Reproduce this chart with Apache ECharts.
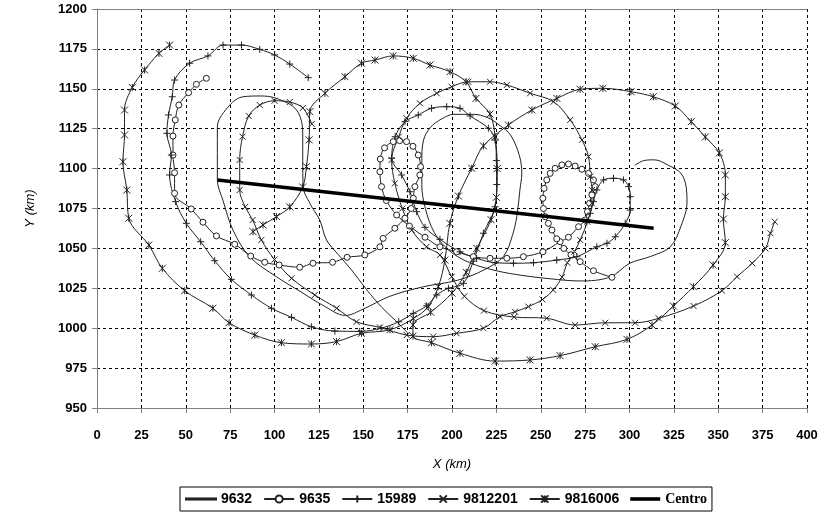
<!DOCTYPE html>
<html>
<head>
<meta charset="utf-8">
<script src="https://cdn.jsdelivr.net/npm/echarts/dist/echarts.min.js"></script>
<style>
  html, body { margin: 0; padding: 0; background: #fff; }
  #chart { width: 821px; height: 515px; }
</style>
</head>
<body>
<div id="chart"></div>
<script>
// Axis ranges and tick spacing (km)
const xRange = [0, 400];
const yRange = [950, 1200];
const tickStep = 25;

// Trajectory names
const seriesNames = ['9632', '9635', '15989', '9812201', '9816006', 'Centro'];

// Trajectory 9632 (X km, Y km)
const track9632 = [
  [303,1102],[308,1105],[314,1105.5],[322,1102],[329,1097],[332,1088],[332.4,1079],[329,1064],
  [323,1051],[312,1045],[300,1040.6],[289,1032],[272,1029.6],[255,1031],[240,1033],[225,1036],
  [210,1041],[198,1049],[190,1060],[185,1075],[183,1090],[183,1105],[184,1118],[188,1126],
  [194,1131],[201,1134],[212,1134],[220,1132],[227,1127],[233,1121],[238,1108],[239.3,1097],
  [238.3,1087],[236.5,1070],[234,1058],[229,1045],[218,1036.5],[203,1030],[184,1026],[165,1020],
  [150,1012],[140,1008],[127,1014.5],[116,1022],[101,1032.3],[86,1044.8],[76.6,1061.5],[71,1080],
  [67.8,1093],[67.8,1110],[67.8,1126],[74.8,1139.8],[82.3,1145],[92,1145.5],[101.1,1144],
  [112.4,1136.7],[115.9,1122.3],[115.9,1105],[116.1,1089],[120,1078],[125.5,1067.8],[129.3,1055.3],
  [136,1046],[143.4,1036.5],[152,1024],[160.5,1013],[168,1005],[175,997]
];

// Trajectory 9635
const track9635 = [
  [61.6,1156.6],[56,1152.8],[51.6,1147.6],[46.1,1139.8],[44.1,1130.5],[42.8,1120.4],[42.8,1108.5],
  [43.7,1097.4],[43.7,1084.5],[53.1,1074.7],[59.7,1066.4],[67.3,1057.8],[77.6,1052.6],[86.6,1045.2],
  [94.5,1041.3],[102.6,1039.6],[114.2,1038.2],[121.7,1040.7],[132.7,1041.3],[140.9,1044.4],
  [150.9,1045.9],[159.4,1051],[161.2,1056.3],[167.8,1062.6],[173.5,1068.9],[177,1075],[178.2,1081.4],
  [179.1,1088.7],[181.9,1096],[182.3,1101.2],[181,1108.5],[178,1114],[174.4,1116.9],[170.5,1117.5],
  [166.9,1116.9],[162,1113],[159.6,1106],[159.4,1098],[160.3,1088.7],[163,1080],[168.8,1070.9],
  [176,1064],[184.8,1057],[193.2,1051],[202.6,1047.9],[212,1044.8],[221.4,1043.8],[230.9,1043.8],
  [240.2,1044.8],[251.2,1047.9],[260.9,1054.2],[265.6,1057],[271.3,1063.6],[275,1067.8],[276.3,1073],
  [277.5,1078.3],[278.8,1083.5],[280.7,1088.7],[279.7,1092.9],[276.9,1097],[273.2,1099.6],
  [269.4,1101.6],[265.6,1102.9],[261.9,1102.3],[258.1,1100.2],[255.3,1097],[253.4,1092.9],
  [251.9,1087.6],[251.2,1081.4],[251.5,1075],[252.5,1069.9],[254.3,1065.7],[256.3,1061.5],
  [259,1056],[263,1050],[267,1046],[272.2,1041.7],[279.7,1036],[290.1,1031.9]
];

// Trajectory 15989
const track15989 = [
  [119,1157],[108.6,1165.5],[100.1,1171.2],[91.7,1174.7],[81.4,1177.4],[71,1177.4],[62.5,1170.6],
  [52.2,1166],[43.7,1155.5],[42.4,1145],[40.3,1133.6],[39.4,1122.1],[41.9,1108.5],[40.9,1096],
  [44.3,1079.3],[50.3,1065.7],[58.4,1054.2],[66.3,1042.3],[75.7,1030.6],[87,1020.8],[98.3,1012.5],
  [109.6,1006.8],[120.8,1000.9],[134,998.2],[148,998],[160,1000],[170,1004],[178.2,1009.3],
  [185.7,1014],[191.4,1020.8],[198,1025],[206.4,1028.1],[212,1042],[217.7,1059.5],[224.3,1076.1],
  [225.2,1090],[225,1105],[224.3,1117.9],[220.5,1125.3],[210.2,1133],[204.5,1137.8],[197,1138.8],
  [188.5,1137.8],[181,1133.6],[173.5,1129.4],[168,1120],[166,1106.5],[171.6,1096],[176.3,1085.5],
  [180.1,1073],[184.8,1063.2],[193.2,1055.7],[204.5,1047.9],[213.9,1043.8],[224.3,1041],
  [234.6,1040.7],[245.9,1041],[259,1042.7],[270.3,1044.8],[281.6,1051],[287.3,1053.2],[292,1057.3],
  [297.6,1065.7],[300.4,1074],[300.4,1082.4],[299.5,1088.7],[296.6,1092.9],[291,1093.9],
  [285.4,1092.9],[281.6,1086.6],[279.7,1079.3],[277.9,1072],[276,1066.7]
];

// Trajectory 9812201
const track9812201 = [
  [121,1128],[116,1138],[108.6,1141.7],[100,1142.5],[91.7,1139.8],[85.5,1133],[82,1120],
  [80.4,1105.4],[80.4,1086.6],[83.5,1076],[87.7,1067.8],[92.6,1055.3],[100,1043],[109.6,1031.3],
  [122.7,1020.8],[135,1012.5],[146.2,1004],[159.4,1000.5],[174.5,995.7],[189.4,994.7],[202.6,996.8],
  [217.7,1000],[227,1007.2],[235.5,1010.3],[243,1013.5],[251,1018],[257,1024],[262,1032],[265,1041],
  [269,1048],[272.2,1055.3],[276.3,1066.7],[278.8,1078.3],[278.8,1086.6],[277.9,1095],[276.9,1107.5],
  [273.2,1118],[266.6,1130.5],[257.2,1141.9],[244,1147.2],[230.9,1152.4],[221.4,1154.4],[209.2,1154.4],
  [199.8,1151.3],[191.4,1147.2],[181.9,1140.9],[174.4,1131.5],[170,1120],[166,1105.4],[167.8,1090.8],
  [172,1075],[177.3,1061.5],[185.7,1051],[193.2,1045.9],[199.8,1032.3],[207,1020],[218,1011],
  [235,1007],[253.4,1006.2],[269.4,1002],[286.3,1003.4],[303.2,1003.4],[316.4,1006.2],[336.1,1013.9],
  [352.1,1023.5],[360.6,1032.3],[369.1,1040.7],[376.6,1050],[379.4,1059.5],[381.8,1066.7]
];

// Trajectory 9816006
const track9816006 = [
  [87.9,1060.5],[93.5,1064.7],[101.1,1069.9],[108.6,1076],[115.9,1088.5],[118,1101.2],[119.5,1118],
  [119.9,1135.7],[128.4,1147.2],[139.7,1157.6],[149,1166],[156.6,1168],[166.9,1170.6],[178.2,1169.1],
  [187.6,1164.9],[198.9,1160.7],[207.9,1154.4],[213.5,1144],[221.4,1134.2],[224.3,1120],[225.5,1100],
  [225,1082],[222,1068],[214,1050],[208,1035],[200,1022],[188,1010],[178,1002],[178,995],
  [188.5,990.9],[204.5,984.3],[224.3,979.4],[244,980.1],[260.9,982.8],[280.7,988.4],[298.6,993],
  [312.7,1002],[324.7,1013.9],[336,1026],[347.1,1039.6],[354,1053.6],[352.9,1068.4],[354,1082.4],
  [354,1096],[350.6,1109.8],[342.7,1119.8],[334.8,1129.4],[325.8,1139.2],[313.4,1145],[300.8,1148.2],
  [285,1150.3],[272.2,1149.7],[259.1,1144],[245,1136.7],[231.8,1127.3],[217.7,1114.2],[211.1,1100.2],
  [203.6,1082.8],[198.8,1065.7],[196,1042.7],[192.3,1026],[186.6,1013.5],[178.2,1006],[165,999],
  [149,996.8],[134.9,991.6],[120.8,990.1],[103.9,990.9],[88.9,995.7],[74.4,1003.4],[65.3,1012.5],
  [49.4,1023.5],[36.8,1037.5],[29.2,1052.1],[17.9,1068.9],[16.8,1086.6],[14.6,1104.3],[15.5,1121.1],
  [15.5,1136.7],[19.9,1150.9],[26.8,1161.8],[34.9,1172.2],[40.9,1177.4]
];

// Mean centre line
const trackCentro = [[67.8,1092.9],[313.6,1062.6]];

// Marker glyphs drawn as strokes
const PLUS = 'path://M0,5L10,5M5,0L5,10';
const CROSS = 'path://M0,0L10,10M10,0L0,10';
const STAR = 'path://M0,0L10,10M10,0L0,10M5,0L5,10';
// Legend swatches for the marker-less lines
const THIN_BAR = 'path://M0,0h30v1.1h-30z';
const THICK_BAR = 'path://M0,0h30v3.6h-30z';

const LINE = '#222';
const sans = 'Liberation Sans, Arial, sans-serif';

function track(name, data, symbol, size, fill) {
  return {
    name, type: 'line', data,
    smooth: 0.35,
    symbol, symbolSize: size, showSymbol: symbol !== 'none', showAllSymbol: true,
    lineStyle: { width: 1, color: LINE },
    itemStyle: { color: fill, borderColor: LINE, borderWidth: 1 },
    emphasis: { disabled: true },
    animation: false
  };
}

const chart = echarts.init(document.getElementById('chart'), null, { renderer: 'canvas' });

chart.setOption({
  backgroundColor: '#fff',
  animation: false,
  grid: { left: 97, right: 14, top: 9, bottom: 107, containLabel: false },
  xAxis: [{
    type: 'value', min: xRange[0], max: xRange[1], interval: tickStep,
    axisLine: { show: true, onZero: false, lineStyle: { color: '#808080', width: 1 } },
    axisTick: { show: true, length: 5, lineStyle: { color: '#808080' } },
    axisLabel: { color: '#000', fontFamily: sans, fontWeight: 'bold', fontSize: 13, margin: 21 },
    splitLine: { show: true, lineStyle: { color: '#000', type: [3, 3], width: 1 } },
    name: 'X (km)', nameLocation: 'middle', nameGap: 50,
    nameTextStyle: { color: '#000', fontFamily: sans, fontStyle: 'italic', fontSize: 13 }
  }, {
    type: 'value', position: 'top', min: xRange[0], max: xRange[1],
    axisLine: { show: true, onZero: false, lineStyle: { color: '#808080', width: 1 } },
    axisTick: { show: false }, axisLabel: { show: false }, splitLine: { show: false }
  }],
  yAxis: [{
    type: 'value', min: yRange[0], max: yRange[1], interval: tickStep,
    axisLine: { show: true, onZero: false, lineStyle: { color: '#808080', width: 1 } },
    axisTick: { show: true, length: 5, lineStyle: { color: '#808080' } },
    axisLabel: { color: '#000', fontFamily: sans, fontWeight: 'bold', fontSize: 13, margin: 10,
                 formatter: v => String(v) },
    splitLine: { show: true, lineStyle: { color: '#000', type: [3, 3], width: 1 } },
    name: 'Y (km)', nameLocation: 'middle', nameGap: 60, nameRotate: 90,
    nameTextStyle: { color: '#000', fontFamily: sans, fontStyle: 'italic', fontSize: 13 }
  }],
  legend: {
    data: [
      { name: seriesNames[0], icon: THIN_BAR },
      { name: seriesNames[1] },
      { name: seriesNames[2] },
      { name: seriesNames[3] },
      { name: seriesNames[4] },
      { name: seriesNames[5], icon: THICK_BAR }
    ],
    left: 180, top: 487,
    itemWidth: 30, itemHeight: 9, itemGap: 11,
    padding: [5, 5, 5, 5],
    borderColor: '#000', borderWidth: 1,
    selectedMode: false,
    formatter: n => n === 'Centro' ? '{serif|Centro}' : n,
    textStyle: {
      color: '#000', fontFamily: sans, fontWeight: 'bold', fontSize: 14,
      rich: { serif: { fontFamily: 'Liberation Serif, Times New Roman, serif', fontSize: 14, fontWeight: 'bold', color: '#000' } }
    }
  },
  series: [
    track(seriesNames[0], track9632, 'none', 0, LINE),
    track(seriesNames[1], track9635, 'circle', 6, '#fff'),
    track(seriesNames[2], track15989, PLUS, 7, LINE),
    track(seriesNames[3], track9812201, CROSS, 6, LINE),
    track(seriesNames[4], track9816006, STAR, 7, LINE),
    {
      name: seriesNames[5], type: 'line', data: trackCentro,
      symbol: 'none', lineStyle: { width: 3.5, color: '#000' },
      itemStyle: { color: '#000' },
      emphasis: { disabled: true }, animation: false, z: 5
    }
  ]
});
</script>
</body>
</html>
